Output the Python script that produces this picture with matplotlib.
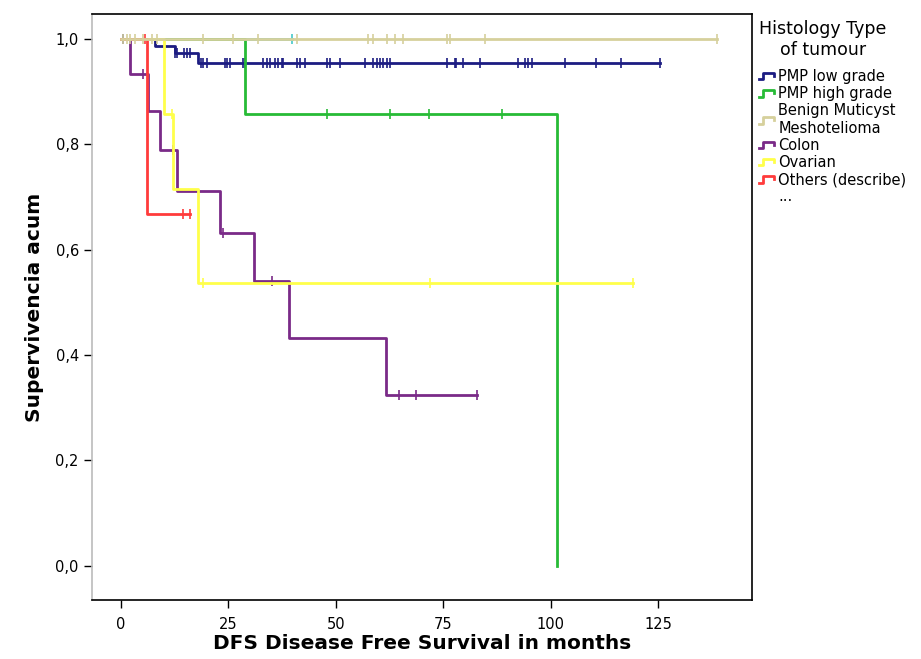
import numpy as np
import matplotlib
matplotlib.use("Agg")
import matplotlib.pyplot as plt
from matplotlib.lines import Line2D
from matplotlib.legend_handler import HandlerBase

# Datos (meses, supervivencia acumulada)
low_t = [0, 7.9, 12.6, 17.9]
low_s = [1.0, 0.987, 0.973, 0.954]
low_cens = [0.5, 12.6, 13.0, 14.7, 15.4, 16.1, 18.6, 19.1, 20.0, 24.2, 24.7, 25.4,
            28.4, 28.9, 33.1, 34.0, 34.7, 35.9, 36.6, 37.5, 37.8, 40.9, 41.7, 42.8,
            47.9, 48.6, 51.0, 56.8, 58.7, 59.5, 60.3, 61.1, 61.9, 62.6, 75.8, 77.7,
            78.1, 79.7, 83.6, 92.5, 94.0, 94.8, 95.6, 103.4, 110.6, 116.3, 125.5]

high_t = [0, 28.9, 101.5]
high_s = [1.0, 0.857, 0.0]
high_cens = [47.9, 62.6, 71.7, 88.6]

ben_t = [0]
ben_s = [1.0]
ben_cens = [0.5, 1.4, 2.1, 3.3, 5.1, 7.2, 8.4, 19.1, 26.1, 31.9, 40.9, 57.6, 58.7,
            61.9, 63.8, 65.7, 75.8, 76.6, 84.7, 138.7]

colon_t = [0, 2.1, 6.4, 9.1, 13.1, 23.0, 31.0, 39.1, 61.8]
colon_s = [1.0, 0.933, 0.862, 0.789, 0.712, 0.631, 0.540, 0.432, 0.324]
colon_cens = [5.1, 12.2, 23.8, 35.1, 64.7, 68.7, 82.8]

ova_t = [0, 10.0, 12.2, 18.0]
ova_s = [1.0, 0.857, 0.714, 0.536]
ova_cens = [11.8, 19.0, 71.9, 119.2]

oth_t = [0, 6.1]
oth_s = [1.0, 0.667]
oth_cens = [5.5, 14.4, 16.1]

cyan_t = [0]
cyan_s = [1.0]
cyan_cens = [39.7]

groups = [
    ("PMP low grade", low_t, low_s, low_cens, "#1c1c82"),
    ("PMP high grade", high_t, high_s, high_cens, "#27bb36"),
    ("Benign Muticyst\nMeshotelioma", ben_t, ben_s, ben_cens, "#d6d09c"),
    ("Colon", colon_t, colon_s, colon_cens, "#7a2a88"),
    ("Ovarian", ova_t, ova_s, ova_cens, "#ffff4a"),
    ("Others (describe)", oth_t, oth_s, oth_cens, "#ff3b3b"),
]


def level(t, s, x):
    i = np.searchsorted(t, x, side="right") - 1
    return np.array(s)[i]


fig = plt.figure(figsize=(9.21, 6.59), dpi=100)
ax = fig.add_axes([0.0999, 0.0895, 0.7166, 0.8893])

# linea cian (grupo sin etiqueta)
xc = cyan_t + [max(cyan_cens)]
yc = cyan_s + [cyan_s[-1]]
ax.step(xc, yc, where="post", color="#45c8c8", lw=2, zorder=2)
ax.plot(cyan_cens, level(cyan_t, cyan_s, cyan_cens), "|", color="#45c8c8", ms=7, mew=1.2)

handles = []
for name, t, s, cens, col in groups:
    end = max(max(cens), t[-1])
    xs = t + [end]
    ys = s + [s[-1]]
    z = 3 if name.startswith("Benign") else 2
    ax.step(xs, ys, where="post", color=col, lw=2, zorder=z)
    ax.plot(cens, level(t, s, cens), "|", color=col, ms=7, mew=1.2, zorder=z)
    handles.append(Line2D([], [], color=col, lw=2, label=name))

handles.append(Line2D([], [], color="none", label="..."))


class HandlerStep(HandlerBase):
    def create_artists(self, legend, orig_handle, xdescent, ydescent, width,
                       height, fontsize, trans):
        c = orig_handle.get_color()
        xs = np.array([0, 0.25, 0.25, 0.95, 0.95]) * width - xdescent
        ys = np.array([0.15, 0.15, 0.8, 0.8, 0.5]) * height - ydescent
        ln = Line2D(xs, ys, color=c, lw=2, transform=trans)
        return [ln]


leg = fig.legend(handles=handles, handler_map={Line2D: HandlerStep()},
                 loc="upper left", bbox_to_anchor=(0.818, 0.978),
                 frameon=False, fontsize=10.5, handlelength=1.1, handletextpad=0.2,
                 labelspacing=0.15, borderaxespad=0,
                 title="Histology Type\nof tumour",
                 title_fontproperties={"size": 12.5, "weight": "medium"})
leg._legend_box.align = "left"
leg.get_title().set_ha("center")
leg._legend_box.sep = 7

ax.set_xlim(-6.75, 146.9)
ax.set_ylim(-0.065, 1.047)
ax.set_xticks([0, 25, 50, 75, 100, 125])
ax.set_yticks([0, 0.2, 0.4, 0.6, 0.8, 1.0])
ax.set_yticklabels(["0,0", "0,2", "0,4", "0,6", "0,8", "1,0"])
ax.tick_params(direction="out", length=6, width=1, labelsize=10.5)
ax.tick_params(axis="x", pad=6)
ax.set_xlabel("DFS Disease Free Survival in months", fontsize=14.5, fontweight="bold", labelpad=2)
ax.set_ylabel("Supervivencia acum", fontsize=14.5, fontweight="bold", labelpad=8)
for sp in ax.spines.values():
    sp.set_linewidth(1.2)
ax.spines["left"].set_color("#bbbbbb")

plt.savefig("out.png", dpi=100)
